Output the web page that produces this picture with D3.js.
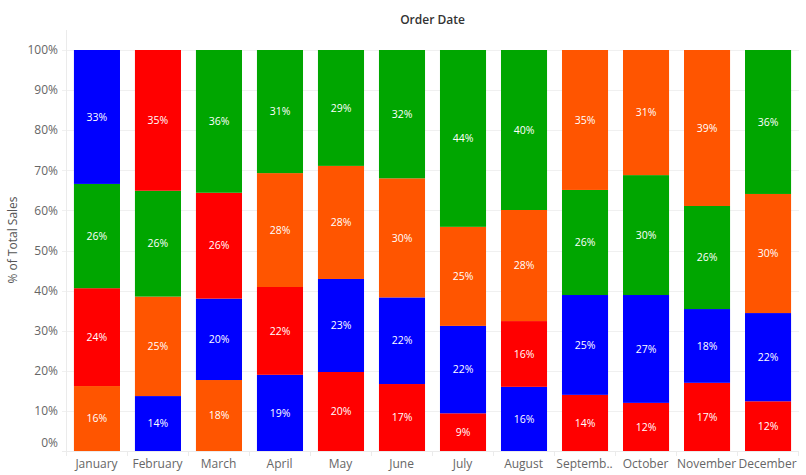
<!DOCTYPE html>
<html>
<head>
<meta charset="utf-8">
<script src="https://cdn.jsdelivr.net/npm/d3@7"></script>
<style>
  html, body { margin: 0; padding: 0; background: #fff; }
  svg { display: block; font-family: "Open Sans", "Noto Sans", sans-serif; }
</style>
</head>
<body>
<svg id="chart" width="806" height="475"></svg>
<script>
// ---- data ----
const months = ["January","February","March","April","May","June","July","August","September","October","November","December"];
const monthLabels = ["January","February","March","April","May","June","July","August","Septemb..","October","November","December"];
const blueValues   = [33.4, 13.7, 20.3, 19.0, 23.2, 21.6, 21.8, 16.0, 24.9, 26.9, 18.4, 22.0];
const redValues    = [24.4, 35.1, 26.4, 21.9, 19.7, 16.7,  9.4, 16.4, 14.0, 12.0, 17.0, 12.4];
const greenValues  = [26.0, 26.4, 35.6, 30.7, 28.9, 32.0, 44.1, 39.9, 26.2, 29.9, 25.7, 35.9];
const orangeValues = [16.2, 24.8, 17.7, 28.4, 28.2, 29.7, 24.7, 27.7, 34.9, 31.2, 38.9, 29.7];
const seriesNames = ["Blue", "Red", "Green", "Orange"];
const yTicks = [0, 10, 20, 30, 40, 50, 60, 70, 80, 90, 100];

const colors = { Blue: "#0000ff", Red: "#ff0000", Green: "#00a600", Orange: "#ff5500" };
const seriesValues = { Blue: blueValues, Red: redValues, Green: greenValues, Orange: orangeValues };

// ---- layout ----
const svg = d3.select("#chart");
const plotLeft = 66, plotRight = 799, plotTop = 50, plotBottom = 451;

const x = d3.scaleBand().domain(months).range([plotLeft, plotRight]).paddingInner(0.245).paddingOuter(0.13);
const y = d3.scaleLinear().domain([0, 100]).range([plotBottom, plotTop]);

// gridlines
svg.append("g").selectAll("line").data(yTicks.filter(t => t > 0)).join("line")
  .attr("x1", plotLeft - 4).attr("x2", plotRight)
  .attr("y1", d => Math.round(y(d)) + 0.5).attr("y2", d => Math.round(y(d)) + 0.5)
  .attr("stroke", "#f0f0f0").attr("stroke-width", 1);

// axis lines
svg.append("line").attr("x1", plotLeft + 0.5).attr("x2", plotLeft + 0.5).attr("y1", 30).attr("y2", plotBottom + 5)
  .attr("stroke", "#ebebeb");
svg.append("line").attr("x1", plotLeft - 4).attr("x2", plotRight).attr("y1", plotBottom + 0.5).attr("y2", plotBottom + 0.5)
  .attr("stroke", "#ebebeb");
// month separators
const step = x.step();
svg.append("g").selectAll("line").data(months).join("line")
  .attr("x1", (d, i) => Math.round(plotLeft + step * (i + 1)) + 0.5)
  .attr("x2", (d, i) => Math.round(plotLeft + step * (i + 1)) + 0.5)
  .attr("y1", plotBottom).attr("y2", plotBottom + 5)
  .attr("stroke", "#ebebeb");

// stacked segments (sorted ascending within each month)
const segments = [];
months.forEach((m, i) => {
  const items = seriesNames.map(s => ({ series: s, value: seriesValues[s][i] }))
    .sort((a, b) => a.value - b.value);
  let acc = 0;
  items.forEach(it => {
    segments.push({ month: m, series: it.series, value: it.value, y0: acc, y1: acc + it.value });
    acc += it.value;
  });
});

const g = svg.append("g");
g.selectAll("rect").data(segments).join("rect")
  .attr("x", d => x(d.month))
  .attr("width", x.bandwidth())
  .attr("y", d => y(d.y1))
  .attr("height", d => y(d.y0) - y(d.y1))
  .attr("fill", d => colors[d.series]);

g.selectAll("text").data(segments).join("text")
  .attr("x", d => x(d.month) + x.bandwidth() / 2)
  .attr("y", d => (y(d.y0) + y(d.y1)) / 2)
  .attr("dy", "0.35em")
  .attr("text-anchor", "middle")
  .attr("fill", "#ffffff")
  .attr("font-size", "10.5px")
  .text(d => Math.round(d.value) + "%");

// y tick labels
svg.append("g").selectAll("text").data(yTicks).join("text")
  .attr("x", 58)
  .attr("y", d => d === 0 ? y(d) - 8 : y(d))
  .attr("dy", "0.35em")
  .attr("text-anchor", "end")
  .attr("fill", "#666")
  .attr("font-size", "12px")
  .text(d => d + "%");

// x labels
svg.append("g").selectAll("text").data(months).join("text")
  .attr("x", (d, i) => plotLeft + step * (i + 0.5))
  .attr("y", 464)
  .attr("dy", "0.35em")
  .attr("text-anchor", "middle")
  .attr("fill", "#666")
  .attr("font-size", "12px")
  .text((d, i) => monthLabels[i]);

// title
svg.append("text").attr("x", (plotLeft + plotRight) / 2).attr("y", 20).attr("dy", "0.35em")
  .attr("text-anchor", "middle").attr("fill", "#333").attr("font-size", "12px").attr("font-weight", 600)
  .text("Order Date");

// y axis title
svg.append("text").attr("transform", "translate(13,240) rotate(-90)").attr("dy", "0.35em")
  .attr("text-anchor", "middle").attr("fill", "#555").attr("font-size", "12px")
  .text("% of Total Sales");
</script>
</body>
</html>
